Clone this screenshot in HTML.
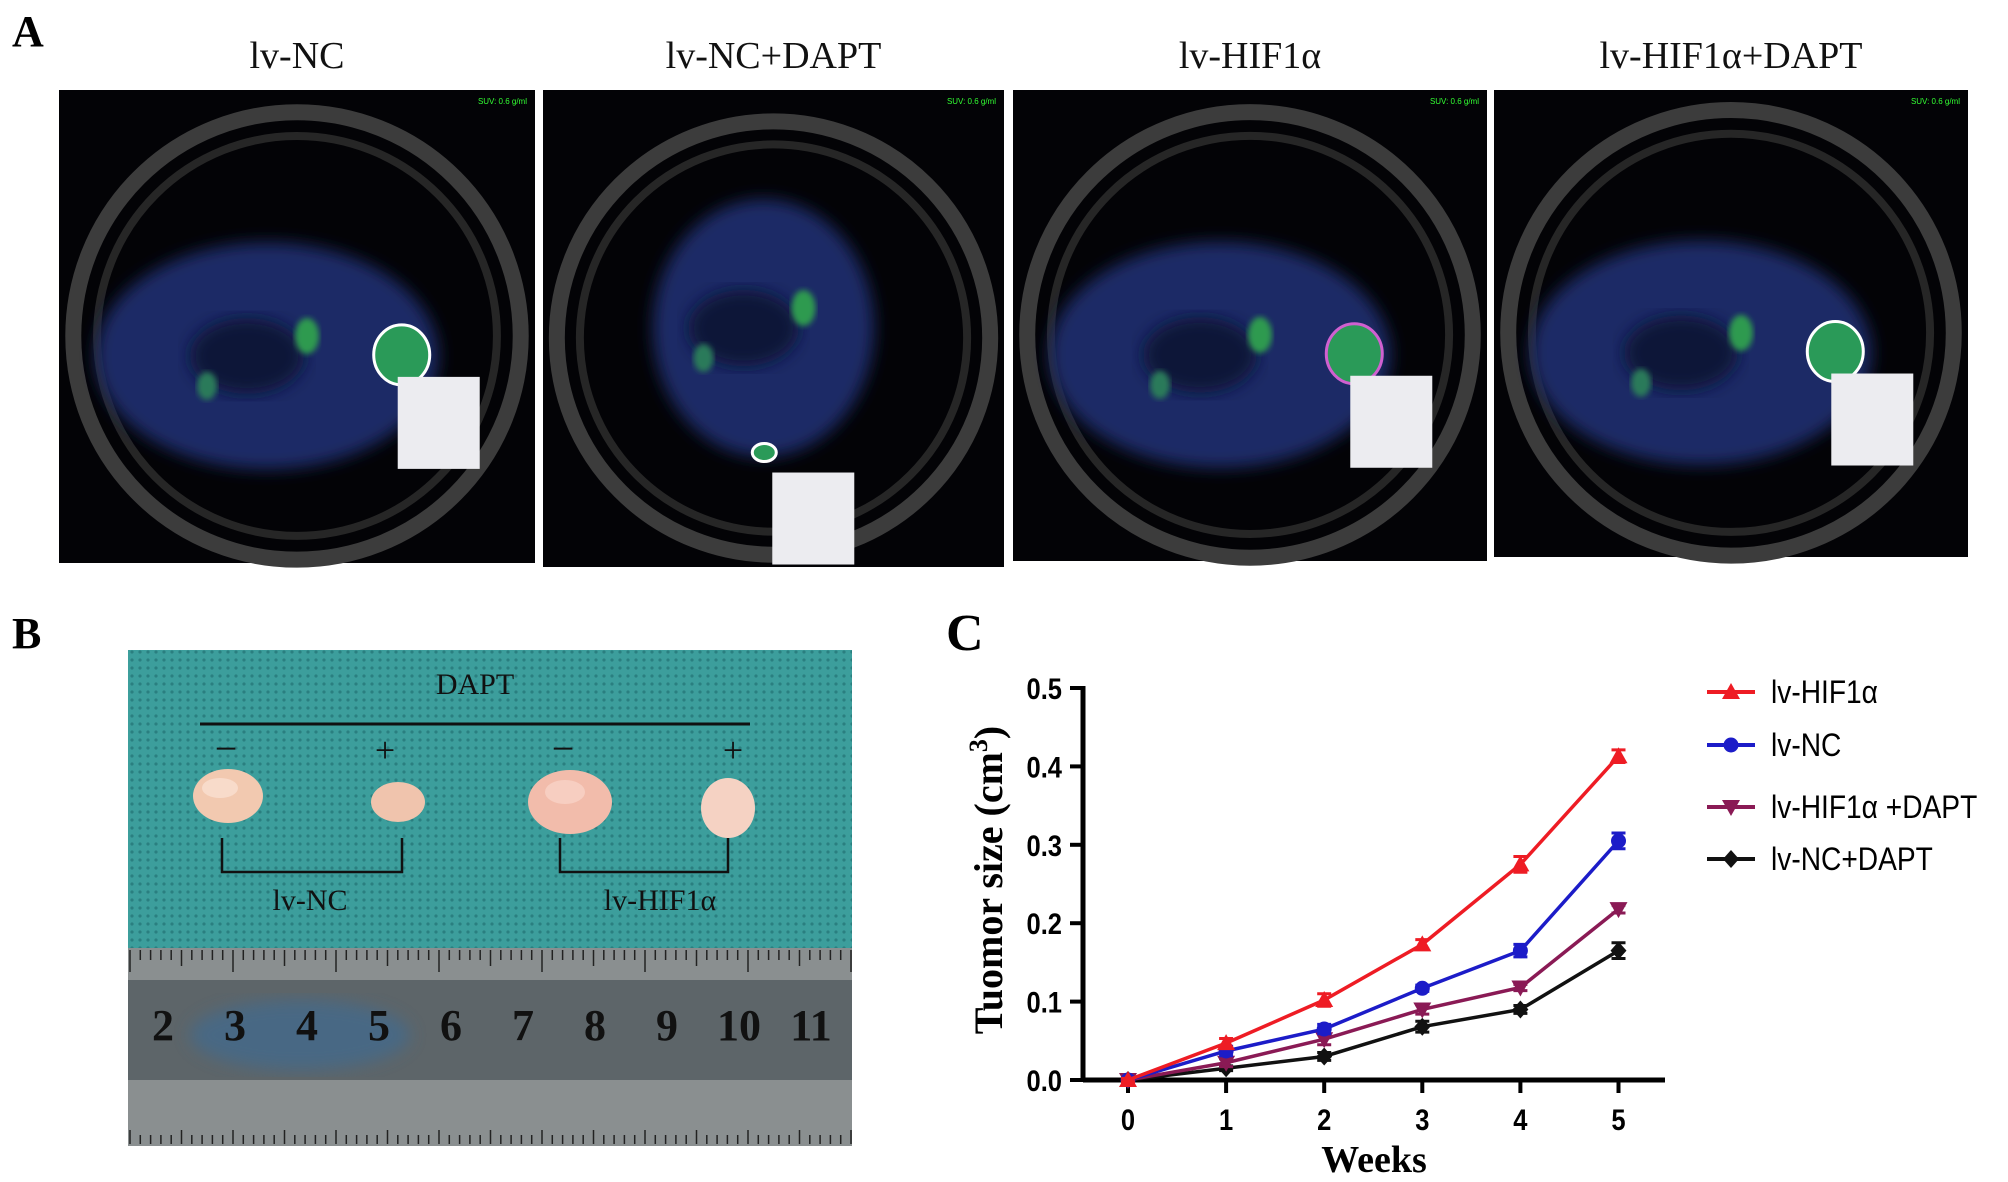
<!DOCTYPE html>
<html><head><meta charset="utf-8"><style>
html,body{margin:0;padding:0;background:#fff;}
svg{display:block;}
.serif{font-family:"Liberation Serif",serif;}
.sans{font-family:"Liberation Sans",sans-serif;}
</style></head>
<body>
<svg id="fig" width="2008" height="1182" viewBox="0 0 2008 1182">
<defs>
<filter id="blur8"><feGaussianBlur stdDeviation="8"/></filter>
<filter id="blur3"><feGaussianBlur stdDeviation="3"/></filter>
<pattern id="mesh" width="8" height="8" patternUnits="userSpaceOnUse"><rect width="8" height="8" fill="#3c9e9c"/><circle cx="4" cy="4" r="1.6" fill="#2a7f80"/></pattern>
</defs>
<text x="12" y="46" class="serif" font-size="44" font-weight="bold">A</text>
<g id="panelA"></g>
<text x="12" y="648" class="serif" font-size="44" font-weight="bold">B</text>
<g>
<rect x="128" y="650" width="724" height="496" fill="url(#mesh)"/>
<rect x="128" y="948" width="724" height="198" fill="#8a8f90"/>
<rect x="128" y="980" width="724" height="100" fill="#5d6569"/>
<ellipse cx="300" cy="1035" rx="110" ry="35" fill="#3f6a90" opacity="0.7" filter="url(#blur8)"/>
<g id="ruler"></g>
<text x="475" y="694" class="serif" font-size="30" text-anchor="middle" fill="#111">DAPT</text>
<line x1="200" y1="724" x2="750" y2="724" stroke="#111" stroke-width="3"/>
<text x="226" y="762" class="serif" font-size="40" text-anchor="middle" fill="#111">−</text>
<text x="385" y="762" class="serif" font-size="36" text-anchor="middle" fill="#111">+</text>
<text x="563" y="762" class="serif" font-size="40" text-anchor="middle" fill="#111">−</text>
<text x="733" y="762" class="serif" font-size="36" text-anchor="middle" fill="#111">+</text>
<ellipse cx="228" cy="796" rx="35" ry="27" fill="#f2c9b0"/>
<ellipse cx="398" cy="802" rx="27" ry="20" fill="#f0c4ad"/>
<ellipse cx="570" cy="802" rx="42" ry="32" fill="#f2bcab"/>
<ellipse cx="728" cy="808" rx="27" ry="30" fill="#f5d2c3"/>
<ellipse cx="220" cy="788" rx="18" ry="10" fill="#fbe3d6" opacity="0.7"/>
<ellipse cx="565" cy="792" rx="20" ry="12" fill="#f9d6cb" opacity="0.7"/>
<path d="M222 838 V872 H402 V838" fill="none" stroke="#111" stroke-width="2.5"/>
<path d="M560 838 V872 H728 V838" fill="none" stroke="#111" stroke-width="2.5"/>
<text x="310" y="910" class="serif" font-size="30" text-anchor="middle" fill="#111">lv-NC</text>
<text x="660" y="910" class="serif" font-size="30" text-anchor="middle" fill="#111">lv-HIF1α</text>
</g>
<text x="946" y="650" class="serif" font-size="52" font-weight="bold">C</text>
<g id="chart"></g>
</svg>
<script>
const NS="http://www.w3.org/2000/svg";
function mk(tag,attrs,parent){const e=document.createElementNS(NS,tag);for(const k in attrs)e.setAttribute(k,attrs[k]);parent.appendChild(e);return e;}

const A=document.getElementById('panelA');
const petTitles=["lv-NC","lv-NC+DAPT","lv-HIF1α","lv-HIF1α+DAPT"];
const boxes=[[59,90,476,473],[543,90,461,477],[1013,90,474,471],[1494,90,474,467]];
boxes.forEach((b,i)=>{
  const [x,y,w,h]=b;
  const t=mk('text',{x:x+w/2,y:68,'class':'serif','font-size':38,'text-anchor':'middle',fill:'#111'},A);
  t.textContent=petTitles[i];
  
  
  const g=mk('g',{},A);
  
  
  mk('rect',{x:x,y:y,width:w,height:h,fill:'#030306'},g);
  const cx=x+w/2, cy=y+h*0.52;
  mk('circle',{cx:cx,cy:cy,r:w*0.47,fill:'none',stroke:'#3c3c3c','stroke-width':16},g);
  mk('circle',{cx:cx,cy:cy,r:w*0.42,fill:'none',stroke:'#262626','stroke-width':8},g);
  const bx=i==1?cx-10:cx-30, by=i==1?cy-10:cy+20;
  mk('ellipse',{cx:bx,cy:by,rx:i==1?w*0.24:w*0.36,ry:i==1?h*0.27:h*0.24,fill:'#1e2a66',filter:'url(#blur8)'},g);
  mk('ellipse',{cx:bx-20,cy:by,rx:w*0.12,ry:h*0.08,fill:'#0c1238',filter:'url(#blur8)'},g);
  mk('ellipse',{cx:bx+40,cy:by-20,rx:12,ry:18,fill:'#2f9a50',filter:'url(#blur3)'},g);
  mk('ellipse',{cx:bx-60,cy:by+30,rx:10,ry:14,fill:'#2a7a5a',filter:'url(#blur3)'},g);
  const rx=i==1?x+w*0.48:x+w*0.72, ry=i==1?y+h*0.76:y+h*0.56;
  mk('ellipse',{cx:rx,cy:ry,rx:i==1?12:28,ry:i==1?9:30,fill:'#2a9a58',stroke:i==2?'#d060d0':'#fff','stroke-width':3},g);
  mk('rect',{x:rx+(i==1?8:-4),y:ry+(i==1?20:22),width:82,height:92,fill:'#ececf0'},g);
  const s=mk('text',{x:x+w-8,y:y+14,'font-size':8,'text-anchor':'end',fill:'#3f3','class':'sans'},g);
  s.textContent="SUV: 0.6 g/ml";
});

const R=document.getElementById('ruler');
const rulerNums=["2","3","4","5","6","7","8","9","10","11"];
for(let k=0;k<=70;k++){const x=130+k*10.3;mk('line',{x1:x,y1:950,x2:x,y2:950+(k%10==0?22:k%5==0?16:10),stroke:'#222','stroke-width':1.5},R);mk('line',{x1:x,y1:1144,x2:x,y2:1144-(k%5==0?14:9),stroke:'#222','stroke-width':1.5},R);}
rulerNums.forEach((n,i)=>{const t=mk('text',{x:163+i*72,y:1040,'class':'serif','font-size':44,'font-weight':'bold','text-anchor':'middle',fill:'#111'},R);t.textContent=n;});

const weeks=[0,1,2,3,4,5];
const seriesNames=["lv-HIF1α","lv-NC","lv-HIF1α +DAPT","lv-NC+DAPT"];
const hif=[0,0.047,0.102,0.173,0.275,0.413];
const nc=[0,0.037,0.065,0.117,0.165,0.305];
const hifDapt=[0,0.022,0.052,0.090,0.118,0.218];
const ncDapt=[0,0.015,0.030,0.068,0.090,0.165];
const hifErr=[0.002,0.006,0.008,0.006,0.010,0.008];
const ncErr=[0.002,0.006,0.006,0.004,0.008,0.010];
const hifDaptErr=[0.002,0.005,0.007,0.006,0.004,0.005];
const ncDaptErr=[0.002,0.003,0.005,0.007,0.005,0.010];
const yTicks=["0.0","0.1","0.2","0.3","0.4","0.5"];
const xTicks=["0","1","2","3","4","5"];
const colors=["#ee1c24","#1c1cc8","#8a1a55","#111111"];
const markers=["tri","circle","tridown","diamond"];

const C=document.getElementById('chart');
const X0=1128, XS=98.1, Y0=1080, YS=784;
const xs=v=>X0+v*XS, ys=v=>Y0-v*YS;
mk('line',{x1:1083,y1:ys(0),x2:1665,y2:ys(0),stroke:'#000','stroke-width':5},C);
mk('line',{x1:1083,y1:ys(0)+2,x2:1083,y2:ys(0.5)-2,stroke:'#000','stroke-width':5},C);
yTicks.forEach(t=>{const v=parseFloat(t);mk('line',{x1:1070,y1:ys(v),x2:1083,y2:ys(v),stroke:'#000','stroke-width':4},C);
 const e=mk('text',{x:1062/0.85,y:ys(v)+11,'class':'sans','font-size':30,'font-weight':'bold','text-anchor':'end',transform:'scale(0.85,1)',fill:'#000'},C);
 e.textContent=t;
 
 });
xTicks.forEach(t=>{const v=parseFloat(t);mk('line',{x1:xs(v),y1:ys(0),x2:xs(v),y2:ys(0)+13,stroke:'#000','stroke-width':4},C);
 const e=mk('text',{x:xs(v)/0.85,y:ys(0)+50,'class':'sans','font-size':30,'font-weight':'bold','text-anchor':'middle',transform:'scale(0.85,1)',fill:'#000'},C);
 e.textContent=t;
 
 });
const yt=mk('text',{x:0,y:0,'class':'serif','font-size':40,'font-weight':'bold','text-anchor':'middle',transform:'translate(1002,880) rotate(-90)',fill:'#000'},C);
yt.innerHTML='Tuomor size (cm<tspan dy="-15" font-size="26">3</tspan><tspan dy="15">)</tspan>';


const xt=mk('text',{x:1374,y:1172,'class':'serif','font-size':38,'font-weight':'bold','text-anchor':'middle',fill:'#000'},C);
xt.textContent='Weeks';



function marker(type,x,y,col,parent){
  if(type=='tri')return mk('path',{d:`M${x} ${y-9} L${x+9} ${y+7} L${x-9} ${y+7}Z`,fill:col},parent);
  if(type=='tridown')return mk('path',{d:`M${x} ${y+9} L${x+9} ${y-7} L${x-9} ${y-7}Z`,fill:col},parent);
  if(type=='diamond')return mk('path',{d:`M${x} ${y-9} L${x+8} ${y} L${x} ${y+9} L${x-8} ${y}Z`,fill:col},parent);
  return mk('circle',{cx:x,cy:y,r:7.5,fill:col},parent);
}
const allVals=[hif,nc,hifDapt,ncDapt], allErr=[hifErr,ncErr,hifDaptErr,ncDaptErr];
const slugs=['hif1a','nc','hif1a-dapt','nc-dapt'];
[3,2,1,0].forEach(si=>{
  const vals=allVals[si], errs=allErr[si], col=colors[si];
  const g=mk('g',{},C);
  
  
  const pts=weeks.map((w,i)=>xs(w)+','+ys(vals[i])).join(' ');
  mk('polyline',{points:pts,fill:'none',stroke:col,'stroke-width':3.5},g);
  weeks.forEach((w,i)=>{
    const x=xs(w),y1=ys(vals[i]+errs[i]),y2=ys(vals[i]-errs[i]);
    mk('path',{d:`M${x} ${y1} V${y2} M${x-7} ${y1} H${x+7} M${x-7} ${y2} H${x+7}`,stroke:col,'stroke-width':3,fill:'none'},g);
    const m=marker(markers[si],x,ys(vals[i]),col,g);
    
    
  });
});
const legY=[692,745,807,859];
seriesNames.forEach((n,i)=>{
  const g=mk('g',{},C);
  
  
  mk('line',{x1:1707,y1:legY[i],x2:1755,y2:legY[i],stroke:colors[i],'stroke-width':4},g);
  marker(markers[i],1731,legY[i],colors[i],g);
  const t=mk('text',{x:1771/0.88,y:legY[i]+11,'class':'sans','font-size':32,transform:'scale(0.88,1)',fill:'#000'},g);
  t.textContent=n;
});
</script>
</body></html>
